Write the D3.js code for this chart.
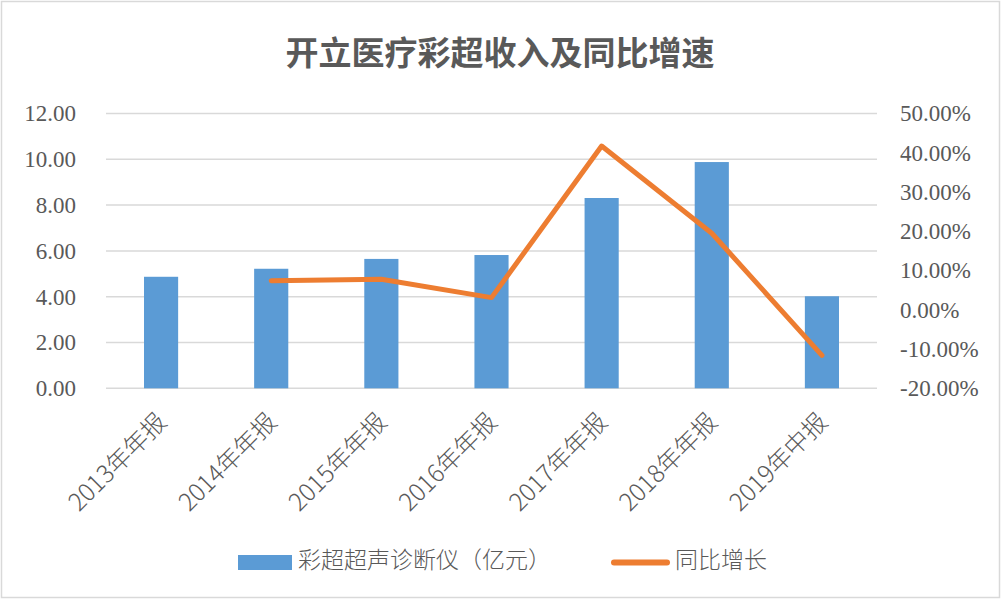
<!DOCTYPE html>
<html>
<head>
<meta charset="utf-8">
<script src="https://cdn.jsdelivr.net/npm/d3@7"></script>
<style>
  body { margin: 0; background: #fff; }
  svg { display: block; }
  .num { font-family: "Liberation Serif", "DejaVu Serif", serif; font-size: 23px; fill: #595959; }
  .cjk { font-family: "Noto Sans CJK SC", sans-serif; fill: #595959; }
</style>
</head>
<body>
<svg id="chart" width="1002" height="600"></svg>
<script>
// chart data
var categories = ["2013年年报", "2014年年报", "2015年年报", "2016年年报", "2017年年报", "2018年年报", "2019年中报"];
var revenue = [4.87, 5.22, 5.65, 5.82, 8.31, 9.88, 4.02];      // 亿元
var growth = [null, 7.4, 7.8, 3.1, 41.7, 19.5, -11.6];          // %
var leftTicks = [0, 2, 4, 6, 8, 10, 12];
var rightTicks = [-20, -10, 0, 10, 20, 30, 40, 50];
var titleText = "开立医疗彩超收入及同比增速";
var barName = "彩超超声诊断仪（亿元）";
var lineName = "同比增长";

var svg = d3.select("#chart");
var W = 1002, H = 600;
var M = {left: 106, right: 877, top: 113.5, bottom: 388.3};

// outer border
svg.append("rect")
    .attr("x", 1.5).attr("y", 1.5)
    .attr("width", W - 4).attr("height", H - 4)
    .attr("fill", "#fff")
    .attr("stroke", "#D9D9D9")
    .attr("stroke-width", 1.5);

var x = d3.scaleBand()
    .domain(categories)
    .range([M.left, M.right])
    .paddingInner(0.69)
    .paddingOuter(0.345);

var yL = d3.scaleLinear().domain([0, 12]).range([M.bottom, M.top]);
var yR = d3.scaleLinear().domain([-20, 50]).range([M.bottom, M.top]);

// gridlines
svg.append("g")
    .selectAll("line")
    .data(leftTicks)
    .join("line")
    .attr("x1", M.left).attr("x2", M.right)
    .attr("y1", function(d){ return yL(d); })
    .attr("y2", function(d){ return yL(d); })
    .attr("stroke", "#D9D9D9")
    .attr("stroke-width", 1.5);

// left axis
var leftAxis = svg.append("g")
    .attr("transform", "translate(" + (M.left - 30) + ",0)")
    .call(d3.axisLeft(yL).tickValues(leftTicks).tickSize(0).tickPadding(0)
        .tickFormat(function(d){ return d.toFixed(2); }));
leftAxis.select(".domain").remove();
leftAxis.selectAll("text").attr("class", "num").attr("font-family", null).attr("font-size", null);

// right axis
var rightAxis = svg.append("g")
    .attr("transform", "translate(" + (M.right + 23) + ",0)")
    .call(d3.axisRight(yR).tickValues(rightTicks).tickSize(0).tickPadding(0)
        .tickFormat(function(d){ return d.toFixed(2) + "%"; }));
rightAxis.select(".domain").remove();
rightAxis.selectAll("text").attr("class", "num").attr("font-family", null).attr("font-size", null);

// bars
svg.append("g")
    .selectAll("rect")
    .data(revenue)
    .join("rect")
    .attr("x", function(d, i){ return x(categories[i]); })
    .attr("y", function(d){ return yL(d); })
    .attr("width", x.bandwidth())
    .attr("height", function(d){ return yL(0) - yL(d); })
    .attr("fill", "#5B9BD5");

// growth line
var line = d3.line()
    .defined(function(d){ return d != null; })
    .x(function(d, i){ return x(categories[i]) + x.bandwidth() / 2; })
    .y(function(d){ return yR(d); });

svg.append("path")
    .attr("d", line(growth))
    .attr("fill", "none")
    .attr("stroke", "#ED7D31")
    .attr("stroke-width", 5)
    .attr("stroke-linejoin", "round")
    .attr("stroke-linecap", "round");

// category labels
var xAxis = svg.append("g")
    .attr("transform", "translate(0," + M.bottom + ")")
    .call(d3.axisBottom(x).tickSize(0));
xAxis.select(".domain").remove();
xAxis.selectAll("text")
    .attr("class", "cjk")
    .attr("font-family", null)
    .attr("font-size", null)
    .style("font-size", "24.5px")
    .style("font-weight", 300)
    .attr("text-anchor", "end")
    .attr("x", 0).attr("y", 0).attr("dy", "0.35em")
    .attr("transform", "translate(1,29) rotate(-45)");

// title
svg.append("text")
    .attr("class", "cjk")
    .attr("x", 500).attr("y", 65)
    .attr("text-anchor", "middle")
    .style("font-size", "33px")
    .style("font-weight", "bold")
    .text(titleText);

// legend
var lg = svg.append("g");
lg.append("rect")
    .attr("x", 238).attr("y", 555)
    .attr("width", 54).attr("height", 15)
    .attr("fill", "#5B9BD5");
lg.append("text")
    .attr("class", "cjk")
    .attr("x", 298).attr("y", 560).attr("dy", "0.35em")
    .style("font-size", "23px")
    .style("font-weight", 300)
    .text(barName);
lg.append("line")
    .attr("x1", 614).attr("x2", 667)
    .attr("y1", 562.5).attr("y2", 562.5)
    .attr("stroke", "#ED7D31")
    .attr("stroke-width", 6)
    .attr("stroke-linecap", "round");
lg.append("text")
    .attr("class", "cjk")
    .attr("x", 675).attr("y", 560).attr("dy", "0.35em")
    .style("font-size", "23px")
    .style("font-weight", 300)
    .text(lineName);
</script>
</body>
</html>
